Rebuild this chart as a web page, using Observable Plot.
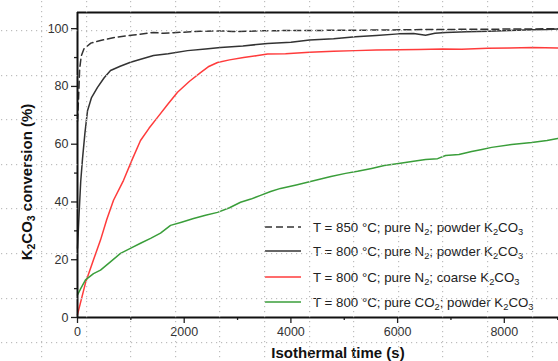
<!DOCTYPE html>
<html><head><meta charset="utf-8">
<script src="https://cdn.jsdelivr.net/npm/d3@7"></script>
<script src="https://cdn.jsdelivr.net/npm/@observablehq/plot@0.6"></script>
<style>
html,body{margin:0;padding:0;background:#fff;}
#wrap{position:relative;width:558px;height:361px;overflow:hidden;font-family:"Liberation Sans",Arial,sans-serif;color:#222;background:#fff;}
#grid{position:absolute;left:0;top:0;width:558px;height:361px;z-index:5;pointer-events:none;}
#chart{position:absolute;left:0;top:0;width:620px;z-index:1;}
#chart svg{max-width:none !important;background:transparent !important;}
.ylab{position:absolute;left:26px;top:182px;transform:translate(-50%,-50%) rotate(-90deg);white-space:nowrap;font-weight:bold;font-size:15px;color:#111;z-index:2;}
.xlab{position:absolute;left:338px;top:352px;transform:translate(-50%,-50%);white-space:nowrap;font-weight:bold;font-size:15px;color:#111;z-index:2;}
.leg{position:absolute;left:265px;top:0;font-size:13.3px;color:#222;white-space:nowrap;z-index:2;}
.leg .row{position:absolute;left:0;height:20px;display:flex;align-items:center;}
.leg svg{width:36px;height:4px;margin-right:12px;}
sub{font-size:70%;vertical-align:-3px;line-height:0;}
</style>
</head><body>
<div id="wrap">
<div id="chart"></div>
<div class="ylab">K<sub>2</sub>CO<sub>3</sub> conversion (%)</div>
<div class="xlab">Isothermal time (s)</div>
<div class="leg" id="leg"></div>
<svg id="grid" width="558" height="361" xmlns="http://www.w3.org/2000/svg"></svg>
</div>
<script>
// ---- data ----
const t850 = [0, 20, 40, 70, 120, 250, 431, 700, 1050, 1425, 1613, 1800, 2300, 2700, 2900, 3560, 4500, 5500, 6500, 7500, 8500, 9000, 10000];
const v850 = [68, 76, 86, 90.5, 93, 95, 95.9, 97, 97.8, 98.7, 98.4, 98.6, 99.1, 99.2, 99.0, 99.3, 99.4, 99.5, 99.7, 99.8, 99.9, 100, 100];

const t800p = [0, 30, 60, 94, 140, 188, 260, 375, 500, 619, 800, 994, 1200, 1425, 1700, 2063, 2400, 2681, 3100, 3563, 4000, 4350, 4800, 5213, 5600, 6019, 6300, 6525, 6700, 6900, 7300, 7706, 8100, 8513, 8800, 9000, 10000];
const v800p = [24, 36, 47, 55, 64, 71.6, 76, 79.7, 83, 85.5, 87, 88.4, 89.5, 90.7, 91.3, 92.4, 93, 93.5, 94, 94.9, 95.3, 96.1, 96.5, 97.2, 97.6, 98.2, 98.3, 97.7, 98.4, 98.7, 98.9, 99.1, 99.4, 99.6, 99.7, 99.9, 100];

const t800c = [0, 150, 300, 431, 550, 675, 863, 1020, 1181, 1340, 1500, 1700, 1875, 2100, 2306, 2450, 2625, 2850, 3113, 3350, 3563, 3900, 4350, 4800, 5213, 5600, 6019, 6400, 6844, 7200, 7688, 8100, 8531, 9000, 10000];
const v800c = [1, 12, 20, 26.8, 34, 40.6, 47.5, 54.5, 61.3, 65.5, 69.3, 74, 78, 81.8, 84.8, 86.8, 88.3, 89.2, 90, 90.6, 91.2, 91.3, 91.8, 92.2, 92.4, 92.6, 92.7, 92.8, 93, 92.9, 93.2, 93.3, 93.5, 93.3, 93.5];

const tCO2 = [0, 60, 150, 300, 431, 600, 806, 1000, 1181, 1370, 1556, 1744, 1950, 2175, 2400, 2625, 2850, 3056, 3250, 3431, 3620, 3806, 4100, 4463, 4750, 5025, 5250, 5513, 5750, 6019, 6300, 6525, 6750, 6900, 7150, 7388, 7580, 7763, 8138, 8513, 8800, 9000, 10000];
const vCO2 = [7.8, 10, 13, 15.2, 16.4, 19, 22.2, 24, 25.7, 27.4, 29.2, 31.9, 33, 34.3, 35.4, 36.4, 38, 39.9, 41, 42.3, 43.6, 44.7, 45.9, 47.5, 48.8, 49.9, 50.6, 51.6, 52.6, 53.3, 54.1, 54.7, 55, 56.1, 56.4, 57.5, 58.2, 58.9, 59.9, 60.6, 61.3, 62, 63.5];

const seriesNames = [
  "T = 850 °C; pure N<sub>2</sub>; powder K<sub>2</sub>CO<sub>3</sub>",
  "T = 800 °C; pure N<sub>2</sub>; powder K<sub>2</sub>CO<sub>3</sub>",
  "T = 800 °C; pure N<sub>2</sub>; coarse K<sub>2</sub>CO<sub>3</sub>",
  "T = 800 °C; pure CO<sub>2</sub>; powder K<sub>2</sub>CO<sub>3</sub>"
];
const seriesColors = ["#333333", "#333333", "#ff3b3b", "#3a9e3a"];
const seriesDash = ["7,4", null, null, null];

const xTicks = [0, 2000, 4000, 6000, 8000];
const xMinor = [1000, 3000, 5000, 7000, 9000];
const yTicks = [0, 20, 40, 60, 80, 100];
const yMinor = [10, 30, 50, 70, 90];
const xDomain = [0, 10000];
const yDomain = [0, 105.6];

const series = [[t850, v850], [t800p, v800p], [t800c, v800c], [tCO2, vCO2]];
const rows = series.flatMap(([ts, vs], i) => ts.map((t, j) => ({t, v: vs[j], s: i})));

const chart = Plot.plot({
  width: 620, height: 361,
  marginLeft: 77, marginRight: 9.5, marginTop: 12, marginBottom: 44,
  style: {background: "transparent", fontFamily: "Liberation Sans, Arial, sans-serif", fontSize: "12.5px", color: "#333", overflow: "visible", maxWidth: "none"},
  x: {domain: xDomain},
  y: {domain: yDomain},
  marks: [
    Plot.axisX(xTicks, {tickSize: 6, tickPadding: 4, label: null, tickFormat: d => String(d), stroke: "#222", strokeWidth: 1.3, fill: "#333"}),
    Plot.axisX(xMinor, {tickSize: 3, label: null, tickFormat: () => "", stroke: "#222", strokeWidth: 1.3}),
    Plot.axisY(yTicks, {tickSize: 6, tickPadding: 3, label: null, tickFormat: d => String(d), stroke: "#222", strokeWidth: 1.3, fill: "#333"}),
    Plot.axisY(yMinor, {tickSize: 3, label: null, tickFormat: () => "", stroke: "#222", strokeWidth: 1.3}),
    ...series.map((_, i) => Plot.line(rows.filter(d => d.s === i), {
      x: "t", y: "v", stroke: seriesColors[i], strokeWidth: 1.5,
      strokeDasharray: seriesDash[i] || undefined, curve: "linear"
    })),
    Plot.ruleY([yDomain[0]], {stroke: "#111", strokeWidth: 2}),
    Plot.ruleY([yDomain[1]], {stroke: "#111", strokeWidth: 2}),
    Plot.ruleX([xDomain[0]], {stroke: "#111", strokeWidth: 2})
  ]
});
chart.style.background = "transparent";
document.getElementById("chart").appendChild(chart);

// ---- legend ----
const legTops = [217, 241, 267, 292];
const leg = document.getElementById("leg");
seriesNames.forEach((name, i) => {
  const row = document.createElement("div");
  row.className = "row";
  row.style.top = legTops[i] + "px";
  row.innerHTML = `<svg viewBox="0 0 36 4"><line x1="0" x2="36" y1="2" y2="2" stroke="${seriesColors[i]}" stroke-width="1.5" ${seriesDash[i] ? `stroke-dasharray="${seriesDash[i]}"` : ""}/></svg><span>${name}</span>`;
  leg.appendChild(row);
});

// ---- dotted page grid overlay (decoration, not data) ----
const gridStep = 44.6;
const gridNS = "http://www.w3.org/2000/svg";
const gridSvg = document.getElementById("grid");
function gridDots(vertical, pos, len) {
  for (let s = 1; s < len; s += 5) {
    const r = document.createElementNS(gridNS, "rect");
    r.setAttribute("x", vertical ? pos : s);
    r.setAttribute("y", vertical ? s : pos);
    r.setAttribute("width", 1.2);
    r.setAttribute("height", 1.2);
    r.setAttribute("fill", "#bdbdbd");
    gridSvg.appendChild(r);
  }
}
for (let x = 41 - gridStep; x < 558; x += gridStep) gridDots(true, Math.round(x), 361);
for (let y = 30 - gridStep; y < 361; y += gridStep) gridDots(false, Math.round(y), 558);
</script>
</body></html>
